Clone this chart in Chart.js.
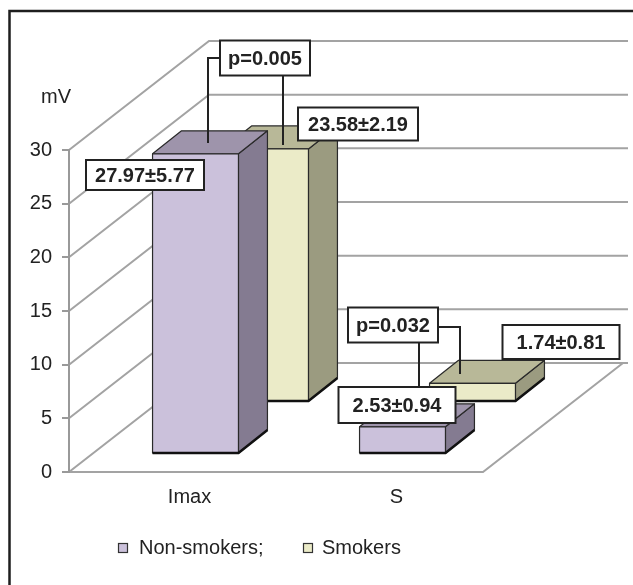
<!DOCTYPE html>
<html>
<head>
<meta charset="utf-8">
<script src="https://cdn.jsdelivr.net/npm/chart.js"></script>
<style>
  html, body { margin: 0; padding: 0; background: #fff; }
  #wrap { width: 633px; height: 585px; }
</style>
</head>
<body>
<div id="wrap"><canvas id="chart" width="633" height="585"></canvas></div>
<script>
// chart values
const categories = ['Imax', 'S'];
const seriesNames = ['Non-smokers;', 'Smokers'];
const nonSmokers = [27.97, 2.53];
const smokers = [23.58, 1.74];
const nonSmokersSD = [5.77, 0.94];
const smokersSD = [2.19, 0.81];
const pValues = ['0.005', '0.032'];
const yTicks = [0, 5, 10, 15, 20, 25, 30];

const FONT = "'Liberation Sans', Arial, sans-serif";

// 3D look
const depth = { dx: 140, dy: -109 };          // floor / side wall depth
const rows = [                                  // one depth row per series
  { dx: 23, dy: -18, front: '#cbc1db', top: '#9e94ab', side: '#847b91' },
  { dx: 93, dy: -70, front: '#ebebc8', top: '#b8b898', side: '#9b9b80' }
];
const boxDepth = { dx: 29, dy: -23 };

function fmt(v) { return v.toFixed(2); }

// callout boxes: centre of box, plus leader lines
const callouts = [
  { text: fmt(nonSmokers[0]) + '±' + fmt(nonSmokersSD[0]), cx: 145, cy: 175, w: 118, h: 30 },
  { text: fmt(smokers[0]) + '±' + fmt(smokersSD[0]), cx: 358, cy: 124, w: 120, h: 33 },
  { text: 'p=' + pValues[0], cx: 265, cy: 58, w: 90, h: 35,
    leaders: [[[220, 58], [208, 58], [208, 143]], [[283, 75], [283, 145]]] },
  { text: 'p=' + pValues[1], cx: 393, cy: 325, w: 90, h: 35,
    leaders: [[[438, 327], [460, 327], [460, 374]], [[419, 342], [419, 387]]] },
  { text: fmt(smokers[1]) + '±' + fmt(smokersSD[1]), cx: 561, cy: 342, w: 117, h: 34 },
  { text: fmt(nonSmokers[1]) + '±' + fmt(nonSmokersSD[1]), cx: 397, cy: 405, w: 117, h: 36 }
];

const threeD = {
  id: 'threeD',
  beforeDraw(chart) {
    const ctx = chart.ctx;
    const ys = chart.scales.y, xs = chart.scales.x;
    const left = chart.chartArea.left, right = chart.chartArea.right;
    ctx.save();
    ctx.fillStyle = '#fff';
    ctx.fillRect(0, 0, chart.width, chart.height);

    // frame
    ctx.strokeStyle = '#1e1e1e';
    ctx.lineWidth = 2.5;
    ctx.beginPath();
    ctx.moveTo(9.5, 585); ctx.lineTo(9.5, 11); ctx.lineTo(633, 11);
    ctx.stroke();

    // walls and grid
    ctx.strokeStyle = '#a3a3a3';
    ctx.lineWidth = 2;
    yTicks.forEach(v => {
      const py = ys.getPixelForValue(v);
      ctx.beginPath();
      ctx.moveTo(left, py);
      ctx.lineTo(left + depth.dx, py + depth.dy);
      ctx.lineTo(right + depth.dx + 5, py + depth.dy);
      ctx.stroke();
    });
    const y0 = ys.getPixelForValue(0);
    ctx.beginPath();
    ctx.moveTo(left, y0);
    ctx.lineTo(right, y0);
    ctx.lineTo(right + depth.dx, y0 + depth.dy);
    ctx.stroke();
    ctx.restore();
  },
  afterDatasetsDraw(chart) {
    const ctx = chart.ctx;
    ctx.save();
    // back row first
    for (let d = chart.data.datasets.length - 1; d >= 0; d--) {
      const row = rows[d];
      chart.getDatasetMeta(d).data.forEach(el => {
        const x0 = el.x - el.width / 2 + row.dx;
        const x1 = el.x + el.width / 2 + row.dx;
        const yt = el.y + row.dy;
        const yb = el.base + row.dy;
        const bx = boxDepth.dx, by = boxDepth.dy;
        ctx.lineJoin = 'round';
        ctx.strokeStyle = '#2a2a2a';
        ctx.lineWidth = 1.2;
        // side
        ctx.fillStyle = row.side;
        ctx.beginPath();
        ctx.moveTo(x1, yt); ctx.lineTo(x1 + bx, yt + by);
        ctx.lineTo(x1 + bx, yb + by); ctx.lineTo(x1, yb); ctx.closePath();
        ctx.fill(); ctx.stroke();
        // top
        ctx.fillStyle = row.top;
        ctx.beginPath();
        ctx.moveTo(x0, yt); ctx.lineTo(x1, yt);
        ctx.lineTo(x1 + bx, yt + by); ctx.lineTo(x0 + bx, yt + by); ctx.closePath();
        ctx.fill(); ctx.stroke();
        // front
        ctx.fillStyle = row.front;
        ctx.fillRect(x0, yt, x1 - x0, yb - yt);
        ctx.strokeRect(x0, yt, x1 - x0, yb - yt);
        // heavy bottom edge
        ctx.lineWidth = 2.5;
        ctx.strokeStyle = '#111';
        ctx.beginPath();
        ctx.moveTo(x0, yb); ctx.lineTo(x1, yb); ctx.lineTo(x1 + bx, yb + by);
        ctx.stroke();
      });
    }
    ctx.restore();
  },
  afterDraw(chart) {
    const ctx = chart.ctx;
    const xs = chart.scales.x;
    ctx.save();
    ctx.fillStyle = '#222';
    ctx.font = '20px ' + FONT;
    ctx.textAlign = 'center';
    ctx.textBaseline = 'middle';
    // axis title
    ctx.fillText('mV', 56, 97);
    // category labels
    categories.forEach((c, i) => ctx.fillText(c, xs.getPixelForValue(i) + 17, 497));

    // leaders
    ctx.strokeStyle = '#222';
    ctx.lineWidth = 2;
    callouts.forEach(c => (c.leaders || []).forEach(pts => {
      ctx.beginPath();
      pts.forEach((p, k) => k ? ctx.lineTo(p[0], p[1]) : ctx.moveTo(p[0], p[1]));
      ctx.stroke();
    }));
    // boxes
    ctx.font = 'bold 20px ' + FONT;
    callouts.forEach(c => {
      ctx.fillStyle = '#fff';
      ctx.fillRect(c.cx - c.w / 2, c.cy - c.h / 2, c.w, c.h);
      ctx.lineWidth = 2;
      ctx.strokeStyle = '#222';
      ctx.strokeRect(c.cx - c.w / 2, c.cy - c.h / 2, c.w, c.h);
      ctx.fillStyle = '#222';
      ctx.fillText(c.text, c.cx, c.cy + 1);
    });

    // legend
    const legendItems = [
      { box: 118.5, text: 139 },
      { box: 303.5, text: 322 }
    ];
    ctx.font = '20px ' + FONT;
    ctx.textAlign = 'left';
    legendItems.forEach((it, i) => {
      ctx.fillStyle = rows[i].front;
      ctx.fillRect(it.box, 543.5, 9, 9);
      ctx.lineWidth = 1.2;
      ctx.strokeStyle = '#333';
      ctx.strokeRect(it.box, 543.5, 9, 9);
      ctx.fillStyle = '#222';
      ctx.fillText(seriesNames[i], it.text, 548);
    });
    ctx.restore();
  }
};

new Chart(document.getElementById('chart'), {
  type: 'bar',
  data: {
    labels: categories,
    datasets: [
      { label: seriesNames[0], data: nonSmokers, backgroundColor: 'rgba(0,0,0,0)', borderWidth: 0 },
      { label: seriesNames[1], data: smokers, backgroundColor: 'rgba(0,0,0,0)', borderWidth: 0 }
    ]
  },
  options: {
    responsive: false,
    animation: false,
    devicePixelRatio: 1,
    layout: { padding: { left: 10, top: 150, right: 150, bottom: 113 } },
    datasets: { bar: { grouped: false, categoryPercentage: 1, barPercentage: 0.415 } },
    plugins: { legend: { display: false }, tooltip: { enabled: false } },
    scales: {
      x: { display: false, afterFit(s) { s.height = 0; } },
      y: {
        min: 0, max: 30,
        afterFit(s) { s.width = 59; },
        ticks: { stepSize: 5, padding: 10, color: '#222', font: { family: FONT, size: 20 } },
        grid: { drawOnChartArea: false, drawTicks: true, tickLength: 7, color: '#999', lineWidth: 2 },
        border: { display: true, color: '#999', width: 2 }
      }
    }
  },
  plugins: [threeD]
});
</script>
</body>
</html>
